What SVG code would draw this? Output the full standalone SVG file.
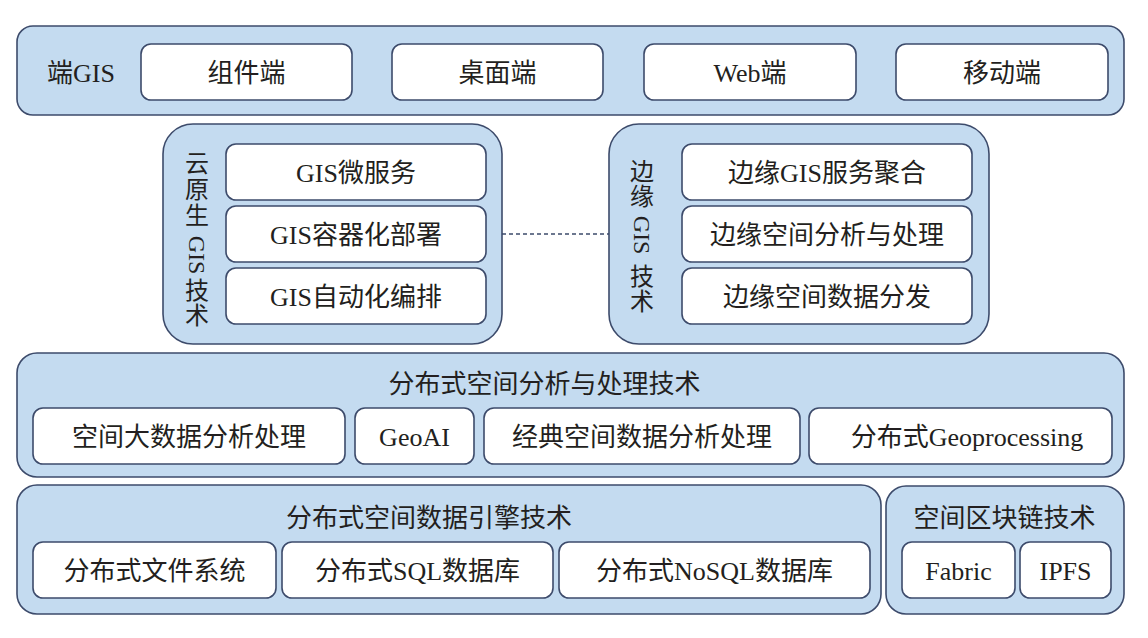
<svg xmlns="http://www.w3.org/2000/svg" width="1148" height="638" viewBox="0 0 1148 638">
<style>
.outer{fill:#c4dbf0;stroke:#3d4b6b;stroke-width:1.6}
.inner{fill:#ffffff;stroke:#3d4b6b;stroke-width:1.6}
text{font-family:"Liberation Serif","Noto Sans CJK SC",serif;fill:#231f20;font-size:26px;text-anchor:middle}
.v{font-size:24px}
.conn{stroke:#3d4b6b;stroke-width:1.6;stroke-dasharray:4 3;fill:none}
</style>
<rect width="1148" height="638" fill="#ffffff"/>

<g id="client-gis">
<rect class="outer" x="17" y="26" width="1107" height="89" rx="16"/>
<text x="81" y="82">端GIS</text>
<rect class="inner" x="141" y="44" width="211" height="56" rx="10"/>
<text x="246.5" y="82">组件端</text>
<rect class="inner" x="392" y="44" width="211" height="56" rx="10"/>
<text x="497.5" y="82">桌面端</text>
<rect class="inner" x="644" y="44" width="212" height="56" rx="10"/>
<text x="750" y="82">Web端</text>
<rect class="inner" x="896" y="44" width="212" height="56" rx="10"/>
<text x="1002" y="82">移动端</text>
</g>

<g id="cloud-native-gis">
<rect class="outer" x="163" y="124" width="339" height="220" rx="30"/>
<text class="v" x="197" y="172">云</text>
<text class="v" x="197" y="198">原</text>
<text class="v" x="197" y="224">生</text>
<text class="v" transform="translate(197,255) rotate(90)" x="0" y="8">GIS</text>
<text class="v" x="197" y="299">技</text>
<text class="v" x="197" y="324">术</text>
<rect class="inner" x="226" y="144" width="260" height="56" rx="10"/>
<text x="356" y="182">GIS微服务</text>
<rect class="inner" x="226" y="206" width="260" height="56" rx="10"/>
<text x="356" y="244">GIS容器化部署</text>
<rect class="inner" x="226" y="268" width="260" height="56" rx="10"/>
<text x="356" y="306">GIS自动化编排</text>
</g>

<g id="edge-gis">
<rect class="outer" x="609" y="124" width="380" height="220" rx="30"/>
<text class="v" x="642" y="180">边</text>
<text class="v" x="642" y="205">缘</text>
<text class="v" transform="translate(642,235) rotate(90)" x="0" y="8">GIS</text>
<text class="v" x="642" y="285">技</text>
<text class="v" x="642" y="310">术</text>
<rect class="inner" x="682" y="144" width="290" height="56" rx="10"/>
<text x="827" y="182">边缘GIS服务聚合</text>
<rect class="inner" x="682" y="206" width="290" height="56" rx="10"/>
<text x="827" y="244">边缘空间分析与处理</text>
<rect class="inner" x="682" y="268" width="290" height="56" rx="10"/>
<text x="827" y="306">边缘空间数据分发</text>
</g>

<g id="connectors">
<line class="conn" x1="502" y1="234" x2="609" y2="234"/>
</g>

<g id="distributed-analysis">
<rect class="outer" x="17" y="353" width="1107" height="124" rx="20"/>
<text x="544.5" y="393">分布式空间分析与处理技术</text>
<rect class="inner" x="33" y="408" width="312" height="56" rx="10"/>
<text x="189" y="446">空间大数据分析处理</text>
<rect class="inner" x="355" y="408" width="119" height="56" rx="10"/>
<text x="414.5" y="446">GeoAI</text>
<rect class="inner" x="484" y="408" width="316" height="56" rx="10"/>
<text x="642" y="446">经典空间数据分析处理</text>
<rect class="inner" x="809" y="408" width="303" height="56" rx="10"/>
<text x="967" y="446">分布式Geoprocessing</text>
</g>

<g id="distributed-data-engine">
<rect class="outer" x="17" y="485" width="864" height="129" rx="20"/>
<text x="429" y="527">分布式空间数据引擎技术</text>
<rect class="inner" x="33" y="542" width="243" height="56" rx="10"/>
<text x="154.5" y="580">分布式文件系统</text>
<rect class="inner" x="282" y="542" width="271" height="56" rx="10"/>
<text x="417.5" y="580">分布式SQL数据库</text>
<rect class="inner" x="559" y="542" width="311" height="56" rx="10"/>
<text x="714.5" y="580">分布式NoSQL数据库</text>
</g>

<g id="spatial-blockchain">
<rect class="outer" x="886" y="486" width="238" height="128" rx="20"/>
<text x="1004.5" y="527">空间区块链技术</text>
<rect class="inner" x="902" y="542" width="113" height="56" rx="10"/>
<text x="958.5" y="580">Fabric</text>
<rect class="inner" x="1020" y="542" width="91" height="56" rx="10"/>
<text x="1065.5" y="580">IPFS</text>
</g>
</svg>
